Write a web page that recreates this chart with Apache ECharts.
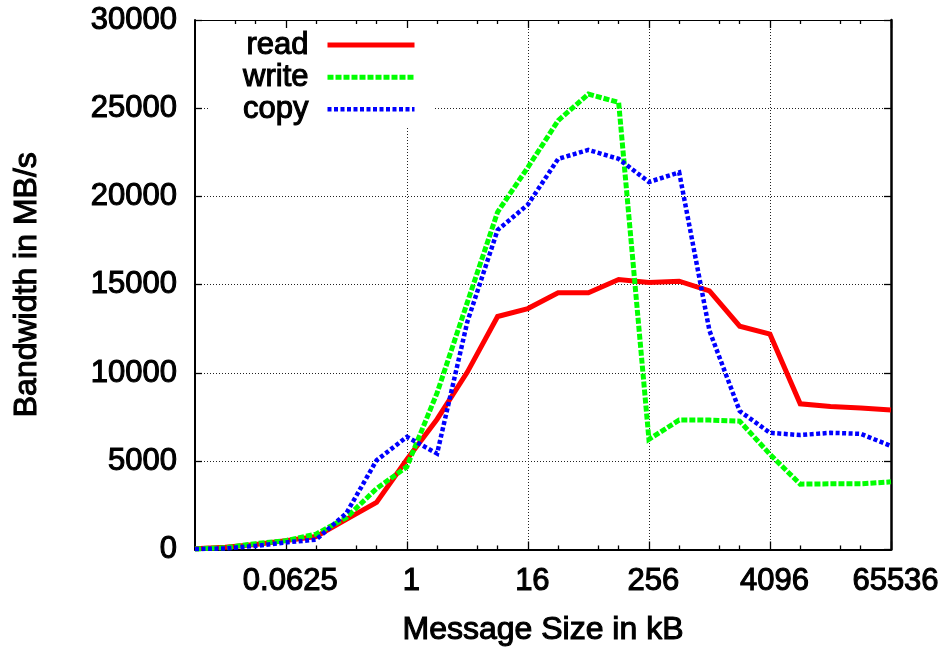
<!DOCTYPE html>
<html>
<head>
<meta charset="utf-8">
<script src="https://cdn.jsdelivr.net/npm/echarts@6/dist/echarts.min.js"></script>
<style>
html,body{margin:0;padding:0;background:#fff;}
#chart{width:943px;height:652px;}
</style>
</head>
<body>
<div id="chart"></div>
<script>
// Message sizes in kB (one point per power of two)
const sizes = [0.0078125, 0.015625, 0.03125, 0.0625, 0.125, 0.25, 0.5, 1, 2, 4, 8, 16, 32, 64, 128, 256, 512, 1024, 2048, 4096, 8192, 16384, 32768, 65536];
// Bandwidth in MB/s
const readBW  = [40, 120, 280, 500, 730, 1700, 2670, 5100, 7380, 10050, 13200, 13650, 14550, 14550, 15300, 15120, 15200, 14650, 12650, 12200, 8250, 8100, 8020, 7900];
const writeBW = [30, 100, 330, 500, 870, 1800, 3450, 4680, 8870, 14000, 19120, 21650, 24300, 25800, 25330, 6240, 7330, 7330, 7270, 5390, 3700, 3720, 3720, 3830];
const copyBW  = [20, 60, 200, 400, 550, 2050, 5050, 6380, 5430, 12900, 18100, 19540, 22130, 22640, 22130, 20820, 21370, 12400, 7840, 6610, 6480, 6610, 6550, 5860];
// Tick values
const xMajorTicks = [0.0625, 1, 16, 256, 4096, 65536];
const xMinorTicks = [0.01953125, 0.03125, 0.125, 0.3125, 0.5, 2, 5, 8, 32, 80, 128, 512, 1280, 2048, 8192, 20480, 32768];
const yMin = 0, yMax = 30000, yStep = 5000;

const FONT = "'Liberation Sans', Arial, Helvetica, sans-serif";
const xMin = sizes[0], xMax = sizes[sizes.length - 1];

function pairs(vals) { return sizes.map((s, i) => [s, vals[i]]); }
function fmt(v) { return String(Math.round(v * 1e7) / 1e7); }

const txt = { color: '#000', fontFamily: FONT, textBorderColor: '#000', textBorderWidth: 1.1 };
const gridLine = { show: true, showMinLine: false, showMaxLine: false, lineStyle: { color: '#222', width: 1, type: [1, 2] } };

function xAxisDef(pos, ticks, len, withLabels, lineShow, lineWidth) {
  return {
    type: 'log', logBase: 2, min: xMin, max: xMax, position: pos,
    axisLine: { show: lineShow, onZero: false, lineStyle: { color: '#000', width: lineWidth } },
    axisTick: { show: true, inside: true, length: len, customValues: ticks, lineStyle: { color: '#000', width: 1.3 } },
    axisLabel: withLabels ? Object.assign({ show: true, customValues: ticks, formatter: fmt, fontSize: 31, margin: 17, padding: [0, 0, 0, 9] }, txt) : { show: false },
    splitLine: withLabels ? gridLine : { show: false },
    minorTick: { show: false }
  };
}

const xAxes = [
  Object.assign(xAxisDef('bottom', xMajorTicks, 8, true, true, 2), {
    name: 'Message Size in kB', nameLocation: 'middle', nameGap: 65,
    nameTextStyle: Object.assign({ fontSize: 32 }, txt)
  }),
  xAxisDef('bottom', xMinorTicks, 4, false, false, 1),
  xAxisDef('top', xMajorTicks, 8, false, true, 1.2),
  xAxisDef('top', xMinorTicks, 4, false, false, 1)
];

const yAxes = [
  {
    type: 'value', min: yMin, max: yMax, interval: yStep, position: 'left',
    axisLine: { show: true, onZero: false, lineStyle: { color: '#000', width: 2 } },
    axisTick: { show: true, inside: true, length: 7, lineStyle: { color: '#000', width: 1.3 } },
    axisLabel: Object.assign({ fontSize: 31, margin: 18, formatter: v => String(v) }, txt),
    splitLine: gridLine,
    name: 'Bandwidth in MB/s', nameLocation: 'middle', nameGap: 152, nameRotate: 90,
    nameTextStyle: Object.assign({ fontSize: 32 }, txt)
  },
  {
    type: 'value', min: yMin, max: yMax, interval: yStep, position: 'right',
    axisLine: { show: true, onZero: false, lineStyle: { color: '#000', width: 2.5 } },
    axisTick: { show: true, inside: true, length: 7, lineStyle: { color: '#000', width: 1.3 } },
    axisLabel: { show: false },
    splitLine: { show: false }
  }
];

const styles = {
  read:  { color: '#ff0000', width: 5, type: 'solid' },
  write: { color: '#00ff00', width: 5, type: [6, 2] },
  copy:  { color: '#0000ff', width: 4.5, type: [4, 2.5] }
};

function seriesDef(name, vals) {
  const st = styles[name];
  return {
    name: name, type: 'line', xAxisIndex: 0, yAxisIndex: 0,
    data: pairs(vals), showSymbol: false, symbol: 'none',
    lineStyle: { color: st.color, width: st.width, type: st.type, cap: 'butt', join: 'miter' },
    itemStyle: { color: st.color },
    emphasis: { disabled: true }
  };
}

const chart = echarts.init(document.getElementById('chart'), null, { renderer: 'canvas' });
chart.setOption({
  animation: false,
  backgroundColor: '#fff',
  textStyle: { fontFamily: FONT },
  grid: { left: 195, right: 52, top: 20, bottom: 100, containLabel: false },
  xAxis: xAxes,
  yAxis: yAxes,
  legend: {
    orient: 'vertical', align: 'right', right: 508, top: 28,
    padding: [1, 18, 2, 33], backgroundColor: '#fff',
    itemWidth: 87, itemHeight: 10, itemGap: 0, selectedMode: false,
    itemStyle: { opacity: 0 },
    textStyle: Object.assign({ fontSize: 31, lineHeight: 32, padding: [0, 14, 0, 0] }, txt),
    data: ['read', 'write', 'copy'].map(n => ({
      name: n,
      itemStyle: { opacity: 0 },
      lineStyle: { color: styles[n].color, width: styles[n].width, type: styles[n].type }
    }))
  },
  series: [
    seriesDef('read', readBW),
    seriesDef('write', writeBW),
    seriesDef('copy', copyBW)
  ]
});
</script>
</body>
</html>
